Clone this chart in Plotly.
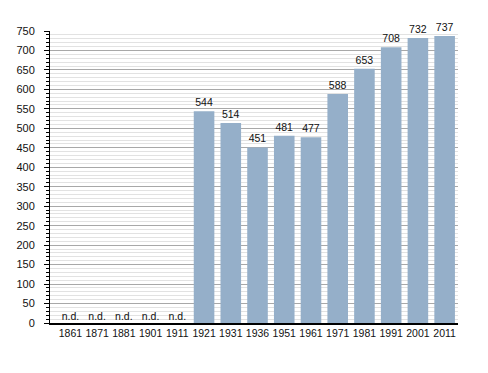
import plotly.graph_objects as go

years = ["1861", "1871", "1881", "1901", "1911", "1921", "1931", "1936",
         "1951", "1961", "1971", "1981", "1991", "2001", "2011"]
population = [None, None, None, None, None, 544, 514, 451, 481, 477, 588, 653, 708, 732, 737]
missing_label = "n.d."

bar_text = [str(v) if v is not None else "" for v in population]
nd_x = [y for y, v in zip(years, population) if v is None]
nd_y = [0 for v in population if v is None]
nd_text = [missing_label for _ in nd_x]

FONT = "Liberation Sans, Arial"

fig = go.Figure()
fig.add_trace(go.Bar(
    x=years, y=population, text=bar_text, textposition="outside",
    textfont=dict(family=FONT, size=10.5, color="#111"),
    marker=dict(color="#95afc9", line=dict(width=0)),
    cliponaxis=False, width=0.77,
))
fig.add_trace(go.Scatter(
    x=nd_x, y=nd_y, text=nd_text, mode="text", textposition="top center",
    textfont=dict(family=FONT, size=10.5, color="#111"),
    cliponaxis=False,
))
fig.update_layout(
    width=488, height=373, showlegend=False,
    margin=dict(l=50, r=30, t=31, b=50, autoexpand=False),
    paper_bgcolor="white", plot_bgcolor="white",
    font=dict(family=FONT, size=11, color="#111"),
    bargap=0.23,
)
fig.update_xaxes(
    type="category", showline=True, linecolor="black", linewidth=1.5,
    ticks="", showgrid=False, tickfont=dict(size=10.5), automargin=False,
)
fig.update_yaxes(
    range=[0, 750], dtick=50, showline=True, linecolor="black", linewidth=1,
    ticks="outside", ticklen=5, tickcolor="black", tickwidth=1,
    showgrid=True, gridcolor="#a8a8a8", gridwidth=1, zeroline=False,
    minor=dict(dtick=10, ticks="outside", ticklen=3, tickcolor="black",
               showgrid=True, gridcolor="#e2e2e2", gridwidth=1),
    tickfont=dict(size=11), automargin=False, ticklabelstandoff=7,
)
fig.write_html(
    "out.html",
    config={"displayModeBar": False},
    post_script="document.body.style.margin='0';document.body.style.overflow='hidden';",
)
